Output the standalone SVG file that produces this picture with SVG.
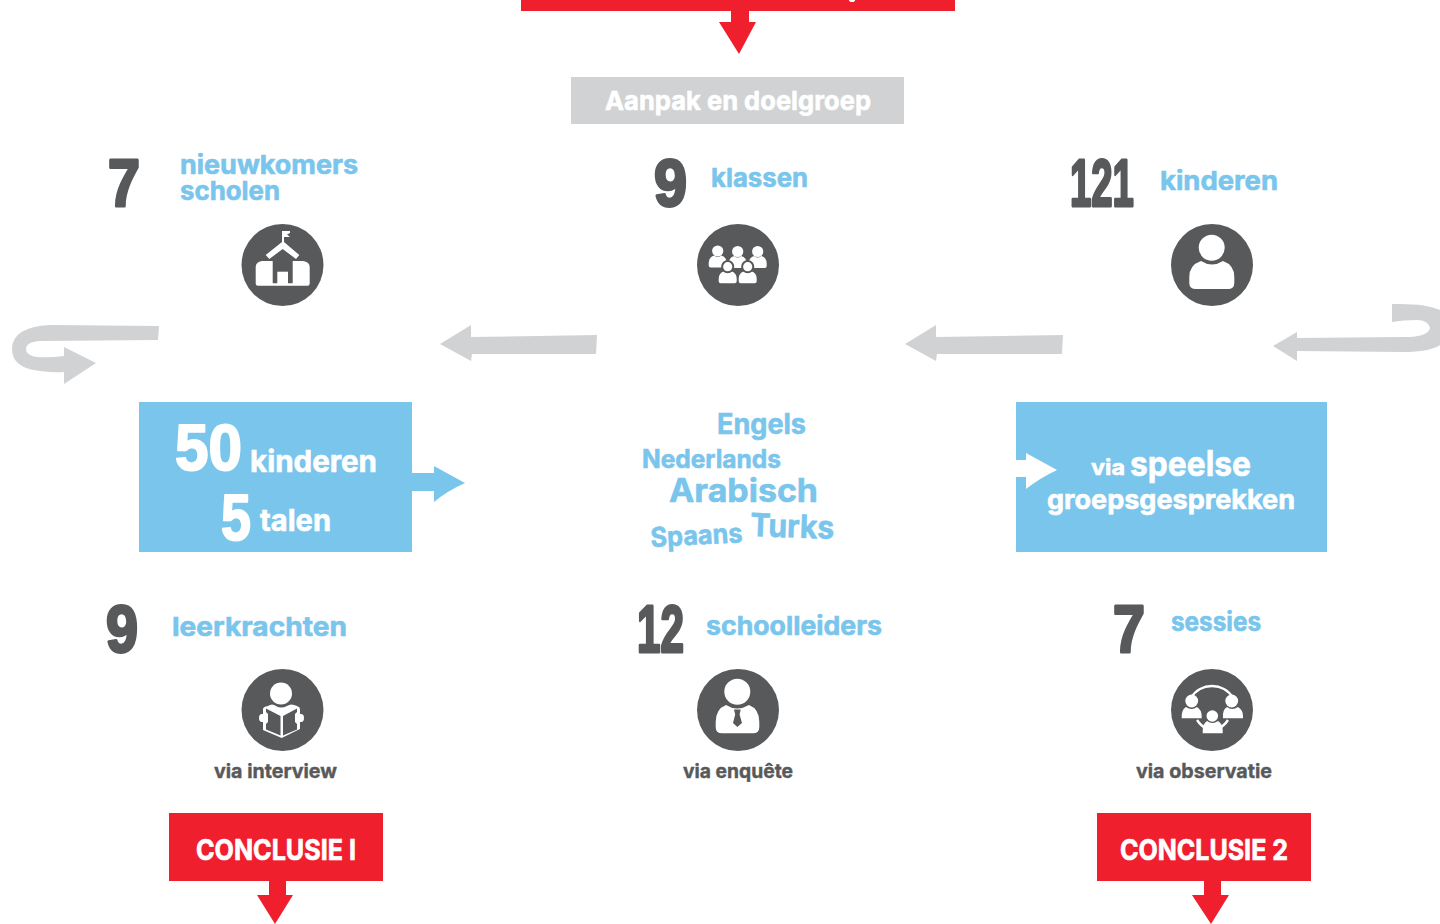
<svg xmlns="http://www.w3.org/2000/svg" width="1440" height="924" viewBox="0 0 1440 924">
<style>
text{font-family:"Inter","Liberation Sans",sans-serif;font-weight:700}
.num{font-family:"Liberation Sans",sans-serif;font-weight:700;fill:#58595b;font-size:67px;stroke:#58595b;stroke-width:3px;stroke-linejoin:round}
.big{font-family:"Liberation Sans",sans-serif;font-weight:700;fill:#fff;font-size:65px;stroke:#fff;stroke-width:2px;stroke-linejoin:round}
.b{fill:#7ac5ec;stroke:#7ac5ec;stroke-width:.6px}
.w{fill:#fff;stroke:#fff;stroke-width:.6px}
.v{fill:#58595b;font-size:19.5px;stroke:#58595b;stroke-width:.4px}
.c{fill:#fff;font-size:29px;stroke:#fff;stroke-width:.7px}
.dk{fill:#58595b}
.wh{fill:#fff}
.g{fill:#d1d2d4}
.r{fill:#ef1f2d}
.bl{fill:#7ac5ec}
</style>
<defs>
<g id="person">
<circle cx="0" cy="0" r="5.6" fill="#fff"/>
<path d="M-3.5 4.5Q0 7.5 3.5 4.5Q9 6 9 12V14.5Q9 16.5 7 16.5H-7Q-9 16.5-9 14.5V12Q-9 6-3.5 4.5Z" fill="#fff"/>
</g>
<g id="personH">
<path d="M-3.5 4.5Q0 7.5 3.5 4.5Q9 6 9 12V14.5Q9 16.5 7 16.5H-7Q-9 16.5-9 14.5V12Q-9 6-3.5 4.5Z" fill="#fff"/>
<circle cx="0" cy="0" r="5.6" fill="#fff" stroke="#58595b" stroke-width="2"/>
</g>
</defs>
<rect width="1440" height="924" fill="#fff"/>

<g id="top-box"><rect class="r" x="521" y="0" width="434" height="11"/><ellipse class="wh" cx="852" cy="0" rx="3" ry="2"/></g>
<g id="aanpak"><rect class="g" x="571" y="77" width="333" height="47"/><text class="w" x="605" y="110" font-size="26" textLength="266" lengthAdjust="spacingAndGlyphs">Aanpak en doelgroep</text></g>

<g id="scholen">
<text class="num" x="108" y="206" textLength="32" lengthAdjust="spacingAndGlyphs">7</text>
<text class="b" x="180" y="174" font-size="26" textLength="178" lengthAdjust="spacingAndGlyphs">nieuwkomers</text>
<text class="b" x="180" y="200" font-size="26" textLength="100" lengthAdjust="spacingAndGlyphs">scholen</text>
<circle class="dk" cx="282.5" cy="265" r="41"/>
<path class="wh" d="M262 261H272.7V283.3H292.7V261H303Q309.7 262 309.7 267V283.5Q309.7 285.7 307.5 285.7H258Q255.7 285.7 255.7 283.5V267Q255.7 262 262 261Z"/>
<path class="wh" d="M265.7 255L282 242V231H290V233L287 234.5L290 237H284V242L299.3 255L296 259L282.7 249L269.3 259Z"/>
<path class="wh" d="M277.3 284V271.7H288V284Z"/>
</g>

<g id="klassen">
<text class="num" x="654" y="206" textLength="33" lengthAdjust="spacingAndGlyphs">9</text>
<text class="b" x="711" y="187" font-size="26" textLength="97" lengthAdjust="spacingAndGlyphs">klassen</text>
<circle class="dk" cx="738" cy="265" r="41"/>
<use href="#person" x="717.7" y="251"/><use href="#person" x="757.7" y="251.5"/><use href="#person" x="737.7" y="251.5"/>
<use href="#personH" x="727.7" y="266.7"/><use href="#personH" x="747.7" y="266.7"/>
</g>

<g id="kinderen">
<text class="num" transform="translate(1070 206) scale(.572 1)">121</text>
<text class="b" x="1160" y="190" font-size="26" textLength="118" lengthAdjust="spacingAndGlyphs">kinderen</text>
<circle class="dk" cx="1212" cy="265" r="41"/>
<path class="wh" d="M1201 261Q1212 268 1223 261Q1234.3 265 1234.3 277V283Q1234.3 289 1228 289H1196Q1189.3 289 1189.3 283V277Q1189.3 265 1201 261Z"/>
<circle class="wh" cx="1211.7" cy="247.7" r="13"/>
</g>

<g id="box-50">
<rect class="bl" x="139" y="402" width="273" height="150"/>
<text class="big" x="175" y="470" textLength="67" lengthAdjust="spacingAndGlyphs">50</text>
<text class="w" x="250" y="472" font-size="30" textLength="127" lengthAdjust="spacingAndGlyphs">kinderen</text>
<text class="big" x="221" y="540" textLength="30" lengthAdjust="spacingAndGlyphs">5</text>
<text class="w" x="260" y="531" font-size="30" textLength="71" lengthAdjust="spacingAndGlyphs">talen</text>
</g>

<g id="talen">
<text class="b" x="717" y="434" font-size="28" textLength="89" lengthAdjust="spacingAndGlyphs">Engels</text>
<text class="b" x="642" y="468" font-size="25" textLength="139" lengthAdjust="spacingAndGlyphs">Nederlands</text>
<text class="b" x="669" y="502" font-size="33" textLength="149" lengthAdjust="spacingAndGlyphs">Arabisch</text>
<text class="b" x="750" y="536" font-size="32" textLength="84" lengthAdjust="spacingAndGlyphs" transform="rotate(2 750 536)">Turks</text>
<text class="b" x="651" y="547" font-size="27" textLength="92" lengthAdjust="spacingAndGlyphs" transform="rotate(-3 651 547)">Spaans</text>
</g>

<g id="box-speels">
<rect class="bl" x="1016" y="402" width="311" height="150"/>
<text class="w" x="1091" y="475" font-size="22" textLength="34" lengthAdjust="spacingAndGlyphs">via</text>
<text class="w" x="1130" y="476" font-size="35" textLength="121" lengthAdjust="spacingAndGlyphs">speelse</text>
<text class="w" x="1047" y="509" font-size="27" textLength="248" lengthAdjust="spacingAndGlyphs">groepsgesprekken</text>
</g>

<g id="leerkrachten">
<text class="num" x="106" y="652" textLength="32" lengthAdjust="spacingAndGlyphs">9</text>
<text class="b" x="172" y="636" font-size="26" textLength="175" lengthAdjust="spacingAndGlyphs">leerkrachten</text>
<circle class="dk" cx="282.5" cy="710" r="41"/>
<circle class="wh" cx="281" cy="693.5" r="11"/>
<path class="wh" d="M268 706Q272 703 276 706Q281 709 287 706Q291 703 297 706Q300 707 300 709V714H301Q304 714 304 718Q304 722 301 722H300V729L281.7 738L263 730V722H262Q259 722 259 718Q259 714 262 714H263V709Q263 707 268 706Z"/>
<path class="dk" d="M266 708.5L280.5 716V735.5L266 729.5V724L268 722V714L266 712ZM297 708.5L283 716V735.5L297 729.5V724L295 722V714L297 712Z"/>
</g>

<g id="schoolleiders">
<text class="num" x="637" y="652" textLength="47" lengthAdjust="spacingAndGlyphs">12</text>
<text class="b" x="706" y="635" font-size="26" textLength="176" lengthAdjust="spacingAndGlyphs">schoolleiders</text>
<circle class="dk" cx="738" cy="710" r="41"/>
<path class="wh" d="M726 705Q737 712 749 705Q759.3 709 759.3 722V727Q759.3 733.3 753 733.3H722Q715.7 733.3 715.7 727V722Q715.7 709 726 705Z"/>
<path class="dk" d="M734 709.5H740.7L739.6 714.5L742 723L737.3 727L733 723L735.2 714.5Z"/>
<circle class="wh" cx="737.3" cy="691.7" r="13"/>
</g>

<g id="sessies">
<text class="num" x="1113" y="652" textLength="32" lengthAdjust="spacingAndGlyphs">7</text>
<text class="b" x="1171" y="631" font-size="26" textLength="90" lengthAdjust="spacingAndGlyphs">sessies</text>
<circle class="dk" cx="1212" cy="710" r="41"/>
<path d="M1191 698C1200 682 1224 682 1233 698M1197 720Q1201 726 1207 729M1218 729Q1224 726 1228 720" fill="none" stroke="#fff" stroke-width="2.4"/>
<circle class="wh" cx="1191.7" cy="701" r="6.4"/><circle class="wh" cx="1231.7" cy="701" r="6.4"/>
<path class="wh" d="M1186 707Q1191.7 711 1197 707Q1201.7 710 1201.7 716V718.3H1181.7Q1181 710 1186 707ZM1227 707Q1232 711 1238 707Q1243 710 1243 716V718.3H1223Q1222 710 1227 707Z"/>
<path class="wh" d="M1207 721Q1212.5 725 1218 721Q1222.7 724 1222.7 730V733.3H1202.7V730Q1202.7 724 1207 721Z"/>
<circle class="wh" cx="1212.3" cy="716" r="5.8"/>
</g>

<g id="via-labels">
<text class="v" x="214" y="778" textLength="123" lengthAdjust="spacingAndGlyphs">via interview</text>
<text class="v" x="683" y="778" textLength="110" lengthAdjust="spacingAndGlyphs">via enquête</text>
<text class="v" x="1136" y="778" textLength="136" lengthAdjust="spacingAndGlyphs">via observatie</text>
</g>

<g id="conclusie-1"><rect class="r" x="169" y="813" width="214" height="68"/><text class="c" x="196" y="860" textLength="160" lengthAdjust="spacingAndGlyphs">CONCLUSIE I</text></g>
<g id="conclusie-2"><rect class="r" x="1097" y="813" width="214" height="68"/><text class="c" x="1120" y="860" textLength="168" lengthAdjust="spacingAndGlyphs">CONCLUSIE 2</text></g>

<g id="connectors">
<path class="r" d="M731 11H749V22H756L739 54L719 22H731Z"/>
<path class="g" d="M440 344L471 325V337L597 335L596 354L472 354L471 361Z"/>
<path class="g" d="M905 344L936 325V337L1063 335L1062 354L937 354L936 361Z"/>
<path class="g" d="M159 326L50 325Q12 327 12 349Q12 368 40 371Q55 373 64 372V384L96 363L64 347V356Q50 358 36 357Q26 355 26 349Q26 342 40 341L158 340Z"/>
<path class="g" d="M1273 346L1297 332V338L1400 337Q1428 338 1430 328Q1428 320 1417 320Q1403 320 1392 322V304Q1425 303 1440 310V345Q1430 352 1403 352L1297 351V361Z"/>
<path class="bl" d="M412 473H434V466L465 483Q447 491 434 502V491H412Z"/>
<path class="wh" d="M1016 460H1026V453L1057 470Q1040 478 1026 489V477H1016Z"/>
<path class="r" d="M269 881H286V895H293L275 924L257 895H269Z"/>
<path class="r" d="M1204 881H1221V895H1229L1211 924L1192 895H1204Z"/>
</g>
</svg>
